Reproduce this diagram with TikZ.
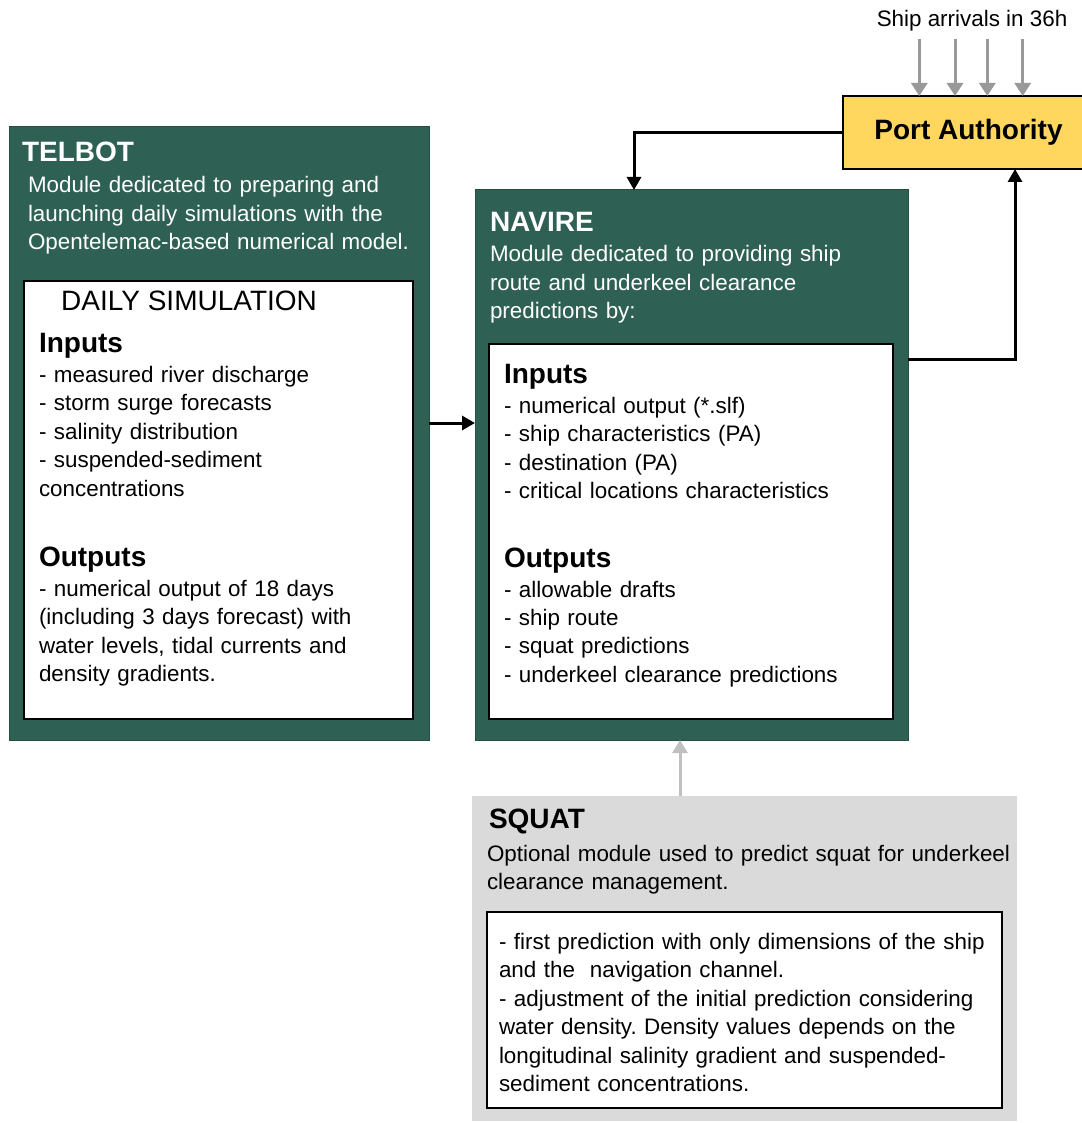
\documentclass[tikz,border=0pt]{standalone}
\usepackage{fontspec}
\setmainfont{Liberation Sans}
\usetikzlibrary{arrows.meta,calc}
\definecolor{grn}{HTML}{2E6153}
\definecolor{grnedge}{HTML}{24503F}
\definecolor{paylw}{HTML}{FFD75E}
\definecolor{sqgray}{HTML}{DADADA}
\definecolor{arrgray}{HTML}{999999}
\definecolor{sqarr}{HTML}{C0C0C0}
\frenchspacing
\begin{document}
\begin{tikzpicture}[x=1pt,y=-1pt,
 box/.style={anchor=north west, inner sep=0pt, outer sep=0pt, rectangle},
 greenbox/.style={box, fill=grn, draw=grnedge, line width=1pt},
 whitebox/.style={box, fill=white, draw=black, line width=2pt},
 graybox/.style={box, fill=sqgray},
 body/.style={anchor=base west, inner sep=0pt, outer sep=0pt, text width=600pt, align=left, font=\frenchspacing\fontsize{22.4}{28.4}\selectfont},
 head/.style={anchor=base west, inner sep=0pt, outer sep=0pt, font=\bfseries\fontsize{28}{34}\selectfont},
 conn/.style={line width=3pt, -{Triangle[width=14pt,length=13pt]}},
 shiparr/.style={draw=arrgray, line width=3pt, -{Triangle[width=16pt,length=13pt]}},
 sqconn/.style={draw=sqarr, line width=3pt, -{Triangle[width=15pt,length=13pt]}},
]
\useasboundingbox[fill=white] (0,0) rectangle (1081,1123);

% boxes
\node[greenbox, minimum width=420pt, minimum height=613pt] (telbot) at (9,127) {};
\node[whitebox, minimum width=389pt, minimum height=438pt] (telin) at (24,281) {};
\node[greenbox, minimum width=433pt, minimum height=550pt] (navire) at (475,190) {};
\node[whitebox, minimum width=404pt, minimum height=375pt] (navin) at (489,344) {};
\node[graybox, minimum width=545pt, minimum height=325pt] (squat) at (472,796) {};
\node[whitebox, minimum width=515pt, minimum height=196pt] (sqin) at (487,912) {};
\node[draw=black, line width=2pt, fill=paylw, minimum width=251pt, minimum height=73pt,
      inner sep=0pt, outer sep=0pt, font=\bfseries\fontsize{28}{34}\selectfont] (pa) at (968.5,132.5) {Port Authority};

% TELBOT texts
\node[head, text=white] (telt) at (22,161.7) {TELBOT};
\node[body, text=white] (teld) at (28,192.7) {Module dedicated to preparing and\\launching daily simulations with the\\Opentelemac-based numerical model.};
\node[anchor=base west, inner sep=0pt, font=\fontsize{28}{34}\selectfont] (daily) at (61,310) {DAILY SIMULATION};
\node[head] (telinh) at (39,352.7) {Inputs};
\node[body] (telinl) at (39,382.5) {- measured river discharge\\- storm surge forecasts\\- salinity distribution\\- suspended-sediment\\concentrations};
\node[head] (teloth) at (39,566) {Outputs};
\node[body] (telotl) at (39,596.5) {- numerical output of 18 days\\(including 3 days forecast) with\\water levels, tidal currents and\\density gradients.};

% NAVIRE texts
\node[head, text=white] (navt) at (490,231.7) {NAVIRE};
\node[body, text=white] (navd) at (490,261.7) {Module dedicated to providing ship\\route and underkeel clearance\\predictions by:};
\node[head] (navinh) at (504,383.5) {Inputs};
\node[body] (navinl) at (504,413.5) {- numerical output (*.slf)\\- ship characteristics (PA)\\- destination (PA)\\- critical locations characteristics};
\node[head] (navoth) at (504,567.5) {Outputs};
\node[body] (navotl) at (504,597) {- allowable drafts\\- ship route\\- squat predictions\\- underkeel clearance predictions};

% SQUAT texts
\node[head] (sqt) at (489,828.3) {SQUAT};
\node[body] (sqd) at (487,861.5) {Optional module used to predict squat for underkeel\\clearance management.};
\node[body] (sql) at (499,949.5) {- first prediction with only dimensions of the ship\\and the\ \ navigation channel.\\- adjustment of the initial prediction considering\\water density. Density values depends on the\\longitudinal salinity gradient and suspended-\\sediment concentrations.};

% ship arrivals
\node[anchor=base, inner sep=0pt, font=\fontsize{22.4}{28.4}\selectfont] (ship) at (972,26.7) {Ship arrivals in 36h};
\coordinate (s1) at (919.3,39);
\coordinate (s2) at (955,39);
\coordinate (s3) at (987.3,39);
\coordinate (s4) at (1022.7,39);
\foreach \s in {s1,s2,s3,s4} \draw[shiparr] (\s) -- (\s |- pa.north);

% connectors
\draw[conn] ([yshift=-296pt]telbot.north east) -- ([yshift=-233pt]navire.north west);
\draw[conn] (pa.west) -| ([xshift=-57.5pt]navire.north);
\draw[conn] ([yshift=-169pt]navire.north east) -| ([xshift=46.5pt]pa.south);
\draw[sqconn] ([xshift=-64.5pt]squat.north) -- ([xshift=-11.5pt]navire.south);
\end{tikzpicture}
\end{document}
